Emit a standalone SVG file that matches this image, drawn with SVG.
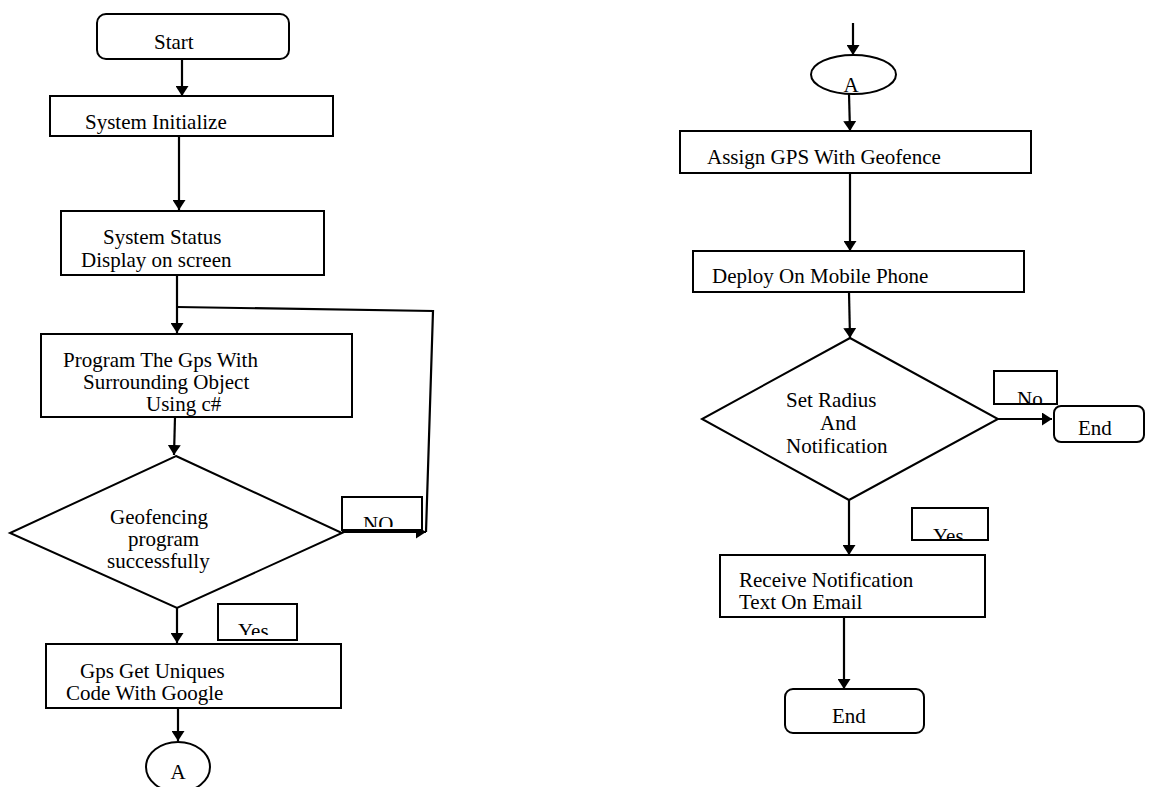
<svg xmlns="http://www.w3.org/2000/svg" width="1149" height="787" viewBox="0 0 1149 787">
<style>
.s{fill:#fff;stroke:#000;stroke-width:2}
.t{font-family:"Liberation Serif","Times New Roman",serif;font-size:21px;fill:#000}
.l{font-family:"Liberation Serif","Times New Roman",serif;font-size:21px;fill:#000}
.c{fill:none;stroke:#000;stroke-width:2.2}
</style>
<defs>
<marker id="ah" viewBox="0 0 10 13" markerWidth="10" markerHeight="13" refX="10" refY="6.5" orient="auto" markerUnits="userSpaceOnUse">
<path d="M0,0 L10,6.5 L0,13 z" fill="#000"/>
</marker>
<clipPath id="cNO"><rect x="343" y="498" width="78" height="29"/></clipPath>
<clipPath id="cY1"><rect x="219" y="605" width="77" height="30"/></clipPath>
<clipPath id="cNo"><rect x="995" y="372" width="61" height="31"/></clipPath>
<clipPath id="cY2"><rect x="913" y="509" width="74" height="30"/></clipPath>
</defs>
<g id="connectors">
<line class="c" x1="182" y1="59" x2="182" y2="96" marker-end="url(#ah)"/>
<line class="c" x1="179" y1="136" x2="179" y2="210" marker-end="url(#ah)"/>
<line class="c" x1="177" y1="275" x2="177" y2="333" marker-end="url(#ah)"/>
<polyline class="c" points="426,532 433,311 177,307"/>
<line class="c" x1="175" y1="417" x2="174" y2="455" marker-end="url(#ah)"/>
<line class="c" x1="342" y1="532" x2="426" y2="532" marker-end="url(#ah)"/>
<line class="c" x1="177" y1="608" x2="177" y2="643" marker-end="url(#ah)"/>
<line class="c" x1="178" y1="708" x2="178" y2="741" marker-end="url(#ah)"/>
<line class="c" x1="853" y1="23" x2="853" y2="55" marker-end="url(#ah)"/>
<line class="c" x1="849" y1="94" x2="850" y2="131" marker-end="url(#ah)"/>
<line class="c" x1="850" y1="173" x2="850" y2="251" marker-end="url(#ah)"/>
<line class="c" x1="849" y1="292" x2="850" y2="338" marker-end="url(#ah)"/>
<line class="c" x1="998" y1="419" x2="1052" y2="419" marker-end="url(#ah)"/>
<line class="c" x1="849" y1="500" x2="849" y2="555" marker-end="url(#ah)"/>
<line class="c" x1="844" y1="617" x2="844" y2="689" marker-end="url(#ah)"/>
</g>
<g id="start">
<rect class="s" x="97" y="14" width="192" height="45" rx="9"/>
<text class="t" x="154" y="49">Start</text>
</g>
<g id="sysinit">
<rect class="s" x="50" y="96" width="283" height="40"/>
<text class="t" x="85" y="129">System Initialize</text>
</g>
<g id="sysstatus">
<rect class="s" x="61" y="211" width="263" height="64"/>
<text class="t" x="103" y="244">System Status</text>
<text class="t" x="81" y="267">Display on screen</text>
</g>
<g id="program">
<rect class="s" x="41" y="334" width="311" height="83"/>
<text class="t" x="63" y="367">Program The Gps With</text>
<text class="t" x="83" y="389">Surrounding Object</text>
<text class="t" x="146" y="411">Using c#</text>
</g>
<g id="geofencing">
<polygon class="s" points="176,456 342,533 177,608 10,533"/>
<text class="t" x="110" y="524">Geofencing</text>
<text class="t" x="128" y="546">program</text>
<text class="t" x="107" y="568">successfully</text>
</g>
<g id="label-no1">
<rect class="s" x="342" y="497" width="80" height="33"/>
<text class="l" x="363" y="531" clip-path="url(#cNO)">NO</text>
</g>
<g id="label-yes1">
<rect class="s" x="218" y="604" width="79" height="36"/>
<text class="l" x="238" y="638" clip-path="url(#cY1)">Yes</text>
</g>
<g id="gpsget">
<rect class="s" x="46" y="644" width="295" height="64"/>
<text class="t" x="80" y="678">Gps Get Uniques</text>
<text class="t" x="66" y="700">Code With Google</text>
</g>
<g id="connA1">
<ellipse class="s" cx="178" cy="767" rx="32" ry="25"/>
<text class="t" x="178" y="779" text-anchor="middle">A</text>
</g>
<g id="connA2">
<ellipse class="s" cx="853.5" cy="74.5" rx="42.5" ry="19.5"/>
<text class="t" x="851" y="92" text-anchor="middle">A</text>
</g>
<g id="assign">
<rect class="s" x="680" y="131" width="351" height="42"/>
<text class="t" x="707" y="164">Assign GPS With Geofence</text>
</g>
<g id="deploy">
<rect class="s" x="693" y="251" width="331" height="41"/>
<text class="t" x="712" y="283">Deploy On Mobile Phone</text>
</g>
<g id="setradius">
<polygon class="s" points="850,338 998,419 849,500 702,419"/>
<text class="t" x="786" y="407">Set Radius</text>
<text class="t" x="820" y="430">And</text>
<text class="t" x="786" y="453">Notification</text>
</g>
<g id="label-no2">
<rect class="s" x="994" y="371" width="63" height="33"/>
<text class="l" x="1017" y="406" clip-path="url(#cNo)">No</text>
</g>
<g id="end1">
<rect class="s" x="1054" y="406" width="90" height="36" rx="7"/>
<text class="t" x="1078" y="435">End</text>
</g>
<g id="label-yes2">
<rect class="s" x="912" y="508" width="76" height="32"/>
<text class="l" x="933" y="543" clip-path="url(#cY2)">Yes</text>
</g>
<g id="receive">
<rect class="s" x="720" y="555" width="265" height="62"/>
<text class="t" x="739" y="587">Receive Notification</text>
<text class="t" x="739" y="609">Text On Email</text>
</g>
<g id="end2">
<rect class="s" x="785" y="689" width="139" height="44" rx="8"/>
<text class="t" x="832" y="723">End</text>
</g>
</svg>
